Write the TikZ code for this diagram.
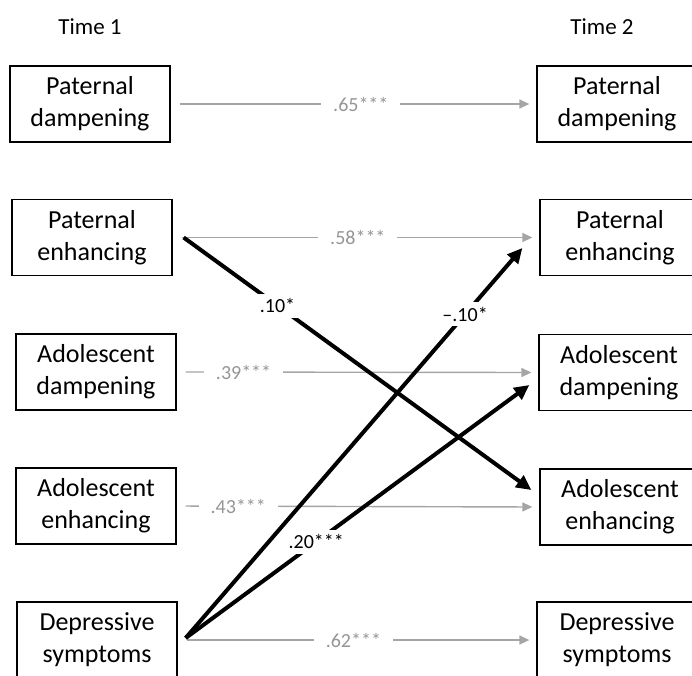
\documentclass[tikz,border=0pt]{standalone}
\usepackage{fontspec}
\setmainfont{Carlito}
\usetikzlibrary{arrows.meta,calc}
\definecolor{pathgray}{RGB}{165,165,165}
\definecolor{labelgray}{RGB}{150,150,150}
\tikzset{%
  var/.style      = {draw, line width=1.3pt, rectangle, minimum width=160pt,
    minimum height=76pt, inner sep=0pt, align=center,
    font=\fontsize{26}{32}\selectfont},
  wave/.style     = {font=\fontsize{23}{28}\selectfont}, % Time label
  stab/.style     = {draw=pathgray, line width=1.4pt,
    -{Triangle[length=10pt,width=9pt]}, shorten <=9pt, shorten >=7pt}, % Stability
  cross/.style    = {draw=black, line width=4pt,
    -{Triangle[length=15pt,width=14pt]}}, % Cross-lagged
  coefgray/.style = {fill=white, text=labelgray, inner xsep=12pt, inner ysep=3pt,
    font=\fontsize{20}{24}\selectfont},
  coef/.style     = {fill=white, text=black, inner sep=5pt,
    font=\fontsize{20}{24}\selectfont}
}
\begin{document}
\begin{tikzpicture}[x=1pt, y=-1pt]
\useasboundingbox (0,0) rectangle (692,675);
\draw
	node at(90,27)[wave, name=t1]{Time 1}
	node at(602,27)[wave, name=t2]{Time 2};
\draw
	node at(90,104)[var, name=pd1]{Paternal\\dampening}
	node at(92,237.5)[var, name=pe1]{Paternal\\enhancing}
	node at(96,372)[var, name=ad1]{Adolescent\\dampening}
	node at(96,506)[var, name=ae1]{Adolescent\\enhancing}
	node at(97,640)[var, name=ds1]{Depressive\\symptoms};
\draw
	node at(617,104)[var, name=pd2]{Paternal\\dampening}
	node at(620,237.5)[var, name=pe2]{Paternal\\enhancing}
	node at(619,372.5)[var, name=ad2]{Adolescent\\dampening}
	node at(620,507)[var, name=ae2]{Adolescent\\enhancing}
	node at(617,640)[var, name=ds2]{Depressive\\symptoms};
\draw[stab](pd1.east) -- node[coefgray, pos=.52]{.65***} (pd2.west);
\draw[stab](pe1.east) -- node[coefgray, pos=.505]{.58***} (pe2.west);
\draw[stab](ad1.east) -- node[coefgray, pos=.185]{.39***} (ad2.west);
\draw[stab](ae1.east) -- node[coefgray, pos=.17]{.43***} (ae2.west);
\draw[stab](ds1.east) -- node[coefgray, pos=.49]{.62***} (ds2.west);
\draw[cross]($(pe1.east)+(11,0)$) -- node[coef, pos=.27]{.10*} ($(ae2.west)+(-8,-17)$);
\draw[cross]($(ds1.east)+(8,-2)$) -- node[coef, pos=.83]{–.10*} ($(pe2.west)+(-17,10.5)$);
\draw[cross]($(ds1.east)+(8,-2)$) -- node[coef, pos=.38]{.20***} ($(ad2.west)+(-9,12.5)$);
\end{tikzpicture}
\end{document}
